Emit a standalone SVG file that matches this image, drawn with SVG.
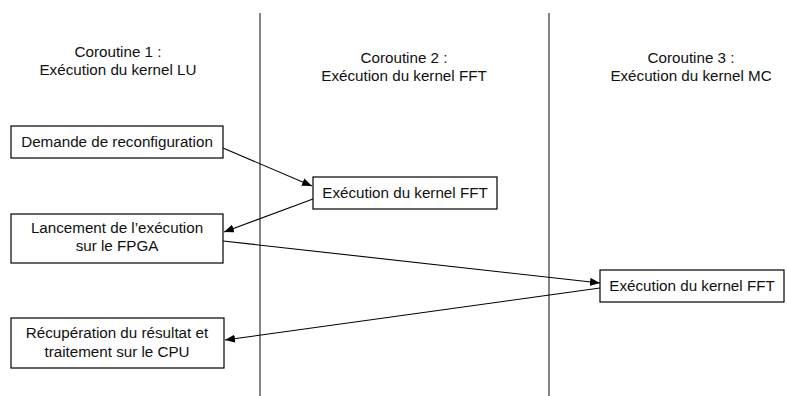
<svg xmlns="http://www.w3.org/2000/svg" width="787" height="396" viewBox="0 0 787 396">
<style>
  text { font-family: "Liberation Sans", Arial, Helvetica, sans-serif; font-size: 15.2px; fill: #111; text-anchor: middle; }
  .box { fill: #fff; stroke: #000; stroke-width: 1.2; }
  .lane { stroke: #333; stroke-width: 1.2; }
  .conn { stroke: #000; stroke-width: 1.1; fill: none; marker-end: url(#arr); }
</style>
<defs>
  <marker id="arr" viewBox="0 0 10 8" refX="10" refY="4" markerWidth="10" markerHeight="8" markerUnits="userSpaceOnUse" orient="auto">
    <path d="M0,0 L10,4 L0,8 Z" fill="#000"/>
  </marker>
</defs>
<rect width="787" height="396" fill="#fff"/>
<g id="lanes">
  <line class="lane" x1="260" y1="13" x2="260" y2="396"/>
  <line class="lane" x1="549" y1="13" x2="549" y2="396"/>
</g>
<g id="header1">
  <text x="118" y="57">Coroutine 1 :</text>
  <text x="118" y="75">Exécution du kernel LU</text>
</g>
<g id="header2">
  <text x="404" y="63">Coroutine 2 :</text>
  <text x="404" y="81">Exécution du kernel FFT</text>
</g>
<g id="header3">
  <text x="691" y="63">Coroutine 3 :</text>
  <text x="691" y="81">Exécution du kernel MC</text>
</g>
<g id="connectors">
  <line class="conn" x1="223" y1="148" x2="312" y2="186"/>
  <line class="conn" x1="313" y1="199" x2="224" y2="232"/>
  <line class="conn" x1="223" y1="241" x2="600" y2="283"/>
  <line class="conn" x1="600" y1="288" x2="225" y2="340"/>
</g>
<g id="demande">
  <rect class="box" x="11" y="126" width="212" height="32"/>
  <text x="117" y="147">Demande de reconfiguration</text>
</g>
<g id="lancement">
  <rect class="box" x="11" y="214" width="212" height="49"/>
  <text x="117" y="233">Lancement de l’exécution</text>
  <text x="117" y="251">sur le FPGA</text>
</g>
<g id="recuperation">
  <rect class="box" x="11" y="318" width="213" height="50"/>
  <text x="117" y="338">Récupération du résultat et</text>
  <text x="117" y="357">traitement sur le CPU</text>
</g>
<g id="fft2">
  <rect class="box" x="313" y="177" width="184" height="32"/>
  <text x="405" y="198">Exécution du kernel FFT</text>
</g>
<g id="fft3">
  <rect class="box" x="600" y="270" width="184" height="32"/>
  <text x="692" y="291">Exécution du kernel FFT</text>
</g>
</svg>
